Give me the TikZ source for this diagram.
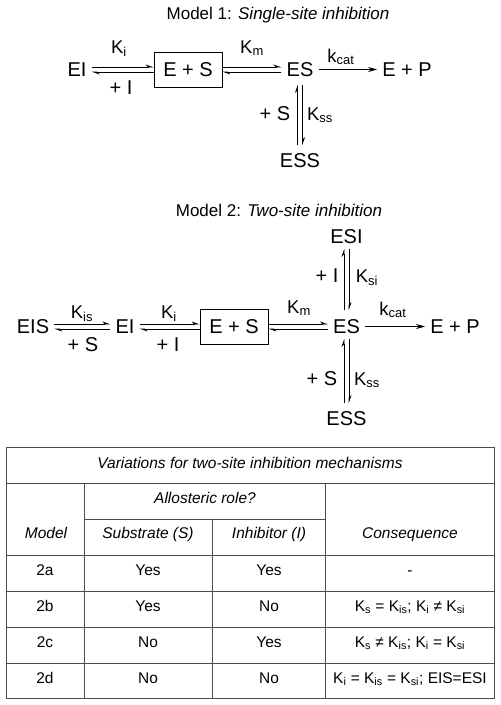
\documentclass[tikz,border=0pt]{standalone}
\usepackage{fontspec}
\setmainfont{Liberation Sans}
\usetikzlibrary{arrows.meta}

\begin{document}
\begin{tikzpicture}[x=1pt, y=-1pt,
  sp/.style={font=\fontsize{20}{22}\selectfont, inner sep=5pt},
  kl/.style={font=\fontsize{18.5}{20}\selectfont, inner sep=0pt, anchor=base},
  pl/.style={font=\fontsize{20}{22}\selectfont, inner sep=0pt, anchor=base},
  ttl/.style={font=\fontsize{17}{19}\selectfont, inner sep=0pt, anchor=base},
  cbox/.style={draw, line width=0.8pt, minimum width=68, minimum height=35, inner sep=0pt, font=\fontsize{20}{22}\selectfont},
  eq/.style={line width=0.7pt, -{Stealth[left,length=7pt,width=5pt]}},
  rx/.style={line width=0.7pt, -{Stealth[length=9pt,width=5pt]}},
  tab/.style={line width=0.8pt, black!70},
  tt/.style={font=\fontsize{15.5}{17}\selectfont, inner sep=0pt, anchor=base}]

\useasboundingbox (0,0) rectangle (501,705);

% Modello 1
\node[ttl] (t1) at (278,19) {Model 1: \textit{Single-site inhibition}};

\node[sp] (ei1) at (77,69.5) {EI};
\node[cbox] (box1) at (188,69.5) {E + S};
\node[sp] (es1) at (300,69.5) {ES};
\node[sp] (ep1) at (407,69.5) {E + P};
\node[sp] (ess1) at (300,160.5) {ESS};

\node[kl] (ki1) at (119,53) {K\textsubscript{i}};
\node[pl] (pi1) at (121,94) {+ I};
\node[kl] (km1) at (252,53) {K\textsubscript{m}};
\node[kl] (kcat1) at (341,62) {k\textsubscript{cat}};
\node[pl] (ps1) at (275,120) {+ S};
\node[kl] (kss1) at (320,120) {K\textsubscript{ss}};

% Frecce
\draw[eq] ([yshift=2.5pt]ei1.east) -- ([yshift=2.5pt]box1.west);
\draw[eq] ([yshift=-2.5pt]box1.west) -- ([yshift=-2.5pt]ei1.east);
\draw[eq] ([yshift=2.5pt]box1.east) -- ([yshift=2.5pt]es1.west);
\draw[eq] ([yshift=-2.5pt]es1.west) -- ([yshift=-2.5pt]box1.east);
\draw[rx] (es1) -- (ep1);
\draw[eq, shorten <=3pt, shorten >=3pt] ([xshift=-2.5pt]ess1.north) -- ([xshift=-2.5pt]es1.south);
\draw[eq, shorten <=3pt, shorten >=3pt] ([xshift=2.5pt]es1.south) -- ([xshift=2.5pt]ess1.north);

% Modello 2
\node[ttl] (t2) at (279,216) {Model 2: \textit{Two-site inhibition}};

\node[sp] (esi2) at (346.5,236.5) {ESI};
\node[sp] (eis2) at (33,326.5) {EIS};
\node[sp] (ei2) at (125,326.5) {EI};
\node[cbox] (box2) at (234,326.5) {E + S};
\node[sp] (es2) at (346.5,326.5) {ES};
\node[sp] (ep2) at (455,326.5) {E + P};
\node[sp] (ess2) at (346.5,418.5) {ESS};

\node[kl] (kis2) at (82,318) {K\textsubscript{is}};
\node[pl] (ps2) at (83,351) {+ S};
\node[kl] (ki2) at (169,318) {K\textsubscript{i}};
\node[pl] (pi2) at (168,351) {+ I};
\node[kl] (km2) at (299,313) {K\textsubscript{m}};
\node[kl] (kcat2) at (393,315) {k\textsubscript{cat}};
\node[pl] (pi2b) at (327,282) {+ I};
\node[kl] (ksi2) at (367,282) {K\textsubscript{si}};
\node[pl] (ps2b) at (322,385) {+ S};
\node[kl] (kss2) at (367,385) {K\textsubscript{ss}};

% Frecce
\draw[eq] ([yshift=2.5pt]eis2.east) -- ([yshift=2.5pt]ei2.west);
\draw[eq] ([yshift=-2.5pt]ei2.west) -- ([yshift=-2.5pt]eis2.east);
\draw[eq] ([yshift=2.5pt]ei2.east) -- ([yshift=2.5pt]box2.west);
\draw[eq] ([yshift=-2.5pt]box2.west) -- ([yshift=-2.5pt]ei2.east);
\draw[eq] ([yshift=2.5pt]box2.east) -- ([yshift=2.5pt]es2.west);
\draw[eq] ([yshift=-2.5pt]es2.west) -- ([yshift=-2.5pt]box2.east);
\draw[rx] (es2) -- (ep2);
\draw[eq, shorten <=4pt] ([xshift=-2.5pt]es2.north) -- ([xshift=-2.5pt]esi2.south);
\draw[eq, shorten >=4pt] ([xshift=2.5pt]esi2.south) -- ([xshift=2.5pt]es2.north);
\draw[eq, shorten <=3pt] ([xshift=-2.5pt]ess2.north) -- ([xshift=-2.5pt]es2.south);
\draw[eq, shorten >=3pt] ([xshift=2.5pt]es2.south) -- ([xshift=2.5pt]ess2.north);

% Tabella
\draw[tab] (6,447) rectangle (494,698);
\foreach \y in {483,555,591,627,663} \draw[tab] (6,\y) -- (494,\y);
\draw[tab] (84,519) -- (325,519);
\draw[tab] (84,483) -- (84,698);
\draw[tab] (325,483) -- (325,698);
\draw[tab] (212,519) -- (212,698);

\node[tt] (hd) at (250,468) {\itshape Variations for two-site inhibition mechanisms};
\node[tt] (allo) at (205,503) {\itshape Allosteric role?};
\node[tt] (hm) at (46,538) {\itshape Model};
\node[tt] (hs) at (148,538) {\itshape Substrate (S)};
\node[tt] (hi) at (269,538) {\itshape Inhibitor (I)};
\node[tt] (hc) at (410,538) {\itshape Consequence};

\foreach \m/\s/\i/\c [count=\r] in {
  2a/Yes/Yes/{-},
  2b/Yes/No/{K\textsubscript{s} = K\textsubscript{is}; K\textsubscript{i} ≠ K\textsubscript{si}},
  2c/No/Yes/{K\textsubscript{s} ≠ K\textsubscript{is}; K\textsubscript{i} = K\textsubscript{si}},
  2d/No/No/{K\textsubscript{i} = K\textsubscript{is} = K\textsubscript{si}; EIS=ESI}} {
  \node[tt] (m\r) at (45,539+36*\r) {\m};
  \node[tt] (s\r) at (148,539+36*\r) {\s};
  \node[tt] (i\r) at (269,539+36*\r) {\i};
  \node[tt] (c\r) at (410,539+36*\r) {\c};
}

\end{tikzpicture}
\end{document}
